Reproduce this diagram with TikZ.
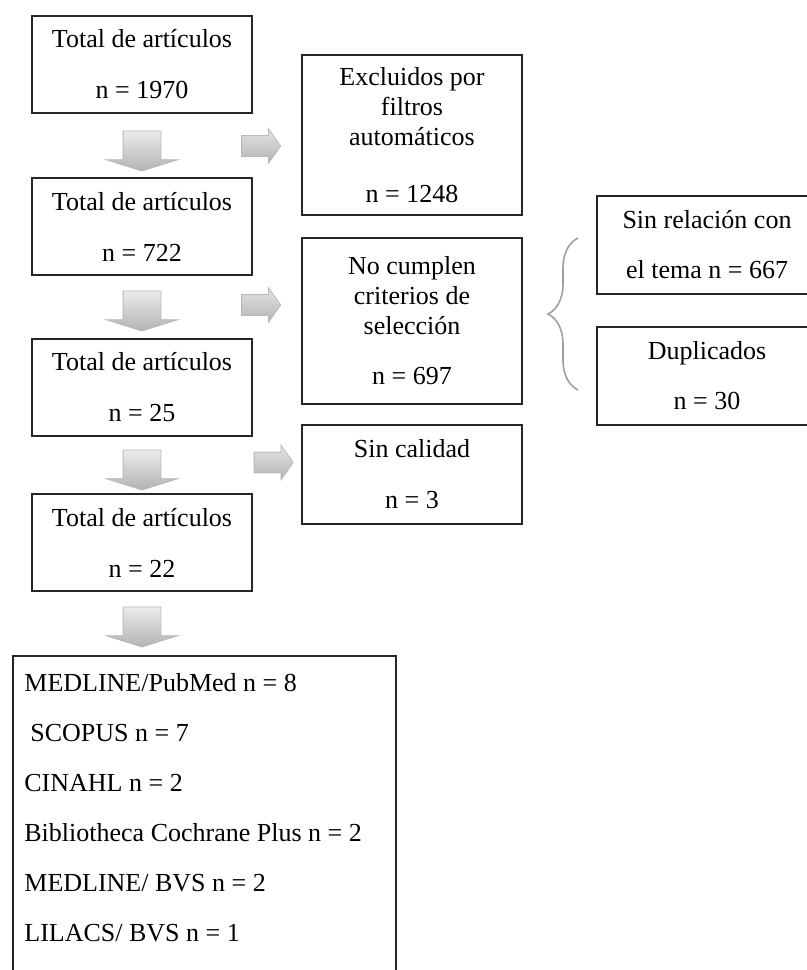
\documentclass[tikz,border=0pt]{standalone}
\usepackage{fontspec}
\setmainfont{Liberation Serif}
\usetikzlibrary{shapes.arrows,decorations.pathreplacing}

\tikzset{
  texto/.style={font=\fontsize{13}{15}\selectfont},
  caja/.style={texto, draw=black!85, line width=1pt, fill=white, minimum width=110pt, align=center, inner sep=0pt},
  flechaabajo/.style={single arrow, shape border rotate=270, minimum height=20pt, minimum width=35.5pt,
    single arrow head extend=8.5pt, single arrow tip angle=145, inner xsep=9.25pt, inner ysep=0pt,
    top color=gray!15, bottom color=gray!60, draw=gray!55, line width=0.4pt},
  flechader/.style={single arrow, minimum height=19.5pt, minimum width=17pt,
    single arrow head extend=3.5pt, single arrow tip angle=110, inner xsep=0pt, inner ysep=5pt,
    top color=gray!20, bottom color=gray!60, draw=gray!55, line width=0.4pt},
  llave/.style={decorate, decoration={brace, amplitude=15pt}, draw=gray!75, line width=0.8pt}
}

\begin{document}
\begin{tikzpicture}[x=0.5pt,y=-0.5pt]
  \useasboundingbox (0,0) rectangle (807,970);
  \fill[white] (0,0) rectangle (807,970);

  % columna principal
  \node[caja, minimum height=48.5pt] (total1) at (142,64.5) {Total de artículos\\[10.5pt] n = 1970};
  \node[caja, minimum height=48.5pt] (total2) at (142,226.5) {Total de artículos\\[10.5pt] n = 722};
  \node[caja, minimum height=48.5pt] (total3) at (142,387.5) {Total de artículos\\[10.5pt] n = 25};
  \node[caja, minimum height=48.5pt] (total4) at (142,542.5) {Total de artículos\\[10.5pt] n = 22};

  % excluidos
  \node[caja, minimum height=80pt] (excl) at (412,135) {Excluidos por\\filtros\\automáticos\\[13.5pt] n = 1248};
  \node[caja, minimum height=83pt] (nocumplen) at (412,321) {No cumplen\\criterios de\\selección\\[10pt] n = 697};
  \node[caja, minimum height=49.5pt] (sincal) at (412,474.5) {Sin calidad\\[10.5pt] n = 3};

  \node[caja, minimum height=49pt] (sinrel) at (707,245) {Sin relación con\\[10pt] el tema n = 667};
  \node[caja, minimum height=49pt] (dupl) at (707,376) {Duplicados\\[10pt] n = 30};

  % bases de datos
  \node[caja, anchor=north west, minimum width=191.5pt, minimum height=180pt] (fuentes) at (12,655) {};
  \node[texto, anchor=north west, align=left, inner sep=0pt] (lista) at (24,673)
    {MEDLINE/PubMed n = 8\\[10pt] \hspace{3pt}SCOPUS n = 7\\[10pt] CINAHL n = 2\\[10pt]
     Bibliotheca Cochrane Plus n = 2\\[10pt] MEDLINE/ BVS n = 2\\[10pt] LILACS/ BVS n = 1};

  % flechas
  \node[flechaabajo] (ab1) at (142,148) {};
  \node[flechaabajo] (ab2) at (142,308) {};
  \node[flechaabajo] (ab3) at (142,467) {};
  \node[flechaabajo] (ab4) at (142,624) {};
  \node[flechader] (de1) at (257.5,146) {};
  \node[flechader] (de2) at (257.5,305) {};
  \node[flechader] (de3) at (270,462.5) {};

  % llave
  \coordinate (llaveinf) at (578,390);
  \coordinate (llavesup) at (578,238);
  \draw[llave] (llaveinf) -- (llavesup);
\end{tikzpicture}
\end{document}
